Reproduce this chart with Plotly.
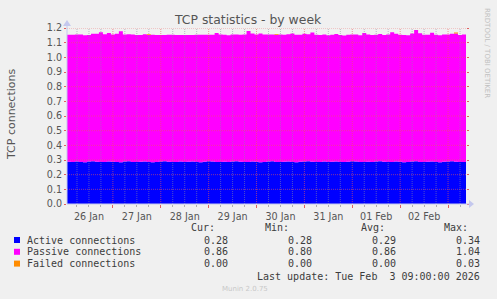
import pandas as pd
import plotly.graph_objects as go

# ---------------- data ----------------
start_time = "2026-01-26 01:00"
end_time = "2026-02-03 09:00"
step = "2h"

active = [
    0.288, 0.286, 0.290, 0.287, 0.285, 0.289, 0.291, 0.288, 0.286, 0.287,
    0.290, 0.288, 0.286, 0.285, 0.289, 0.292, 0.287, 0.286, 0.288, 0.290,
    0.287, 0.285, 0.286, 0.289, 0.291, 0.288, 0.286, 0.287, 0.289, 0.286,
    0.288, 0.290, 0.287, 0.285, 0.288, 0.291, 0.289, 0.286, 0.287, 0.288,
    0.286, 0.289, 0.292, 0.288, 0.286, 0.287, 0.290, 0.288, 0.285, 0.286,
    0.289, 0.291, 0.287, 0.286, 0.288, 0.290, 0.287, 0.285, 0.288, 0.289,
    0.291, 0.288, 0.286, 0.287, 0.289, 0.286, 0.288, 0.290, 0.287, 0.286,
    0.288, 0.291, 0.289, 0.286, 0.287, 0.288, 0.286, 0.289, 0.292, 0.288,
    0.286, 0.287, 0.290, 0.288, 0.285, 0.286, 0.289, 0.291, 0.287, 0.286,
    0.288, 0.290, 0.287, 0.285, 0.288, 0.289, 0.291, 0.288, 0.286, 0.287,
    0.288,
]
passive = [
    0.866, 0.868, 0.865, 0.869, 0.866, 0.864, 0.870, 0.872, 0.885, 0.871,
    0.876, 0.868, 0.874, 0.892, 0.867, 0.865, 0.869, 0.866, 0.864, 0.868,
    0.866, 0.869, 0.867, 0.864, 0.862, 0.866, 0.868, 0.865, 0.863, 0.867,
    0.865, 0.863, 0.867, 0.869, 0.866, 0.863, 0.865, 0.880, 0.868, 0.866,
    0.864, 0.867, 0.863, 0.866, 0.870, 0.893, 0.872, 0.867, 0.878, 0.869,
    0.866, 0.864, 0.867, 0.870, 0.866, 0.868, 0.876, 0.869, 0.866, 0.871,
    0.867, 0.881, 0.868, 0.865, 0.867, 0.864, 0.866, 0.869, 0.865, 0.863,
    0.866, 0.864, 0.867, 0.865, 0.879, 0.868, 0.866, 0.865, 0.867, 0.864,
    0.869, 0.884, 0.870, 0.866, 0.868, 0.865, 0.873, 0.896, 0.877, 0.868,
    0.866, 0.878, 0.867, 0.865, 0.868, 0.866, 0.870, 0.874, 0.867, 0.869,
    0.866,
]
failed = [
    0.0, 0.0, 0.0, 0.0, 0.0, 0.0, 0.0, 0.0, 0.0, 0.0,
    0.0, 0.0, 0.0, 0.0, 0.0, 0.0, 0.0, 0.0, 0.0, 0.0,
    0.004, 0.0, 0.0, 0.0, 0.0, 0.0, 0.0, 0.0, 0.0, 0.0,
    0.0, 0.0, 0.0, 0.0, 0.0, 0.0, 0.0, 0.0, 0.0, 0.0,
    0.0, 0.0, 0.0, 0.0, 0.0, 0.0, 0.0, 0.0, 0.0, 0.0,
    0.0, 0.0, 0.005, 0.0, 0.0, 0.0, 0.0, 0.0, 0.0, 0.0,
    0.0, 0.0, 0.0, 0.0, 0.0, 0.0, 0.0, 0.0, 0.0, 0.0,
    0.0, 0.0, 0.0, 0.0, 0.0, 0.0, 0.0, 0.0, 0.0, 0.0,
    0.0, 0.0, 0.0, 0.0, 0.0, 0.0, 0.0, 0.0, 0.0, 0.0,
    0.0, 0.0, 0.0, 0.0, 0.0, 0.0, 0.0, 0.008, 0.0, 0.0,
    0.0,
]

series_names = ["Active connections", "Passive connections", "Failed connections"]
series_colors = ["#0000ff", "#ff00ff", "#ff8c00"]
stat_headers = ["Cur:", "Min:", "Avg:", "Max:"]
stat_cur = [0.28, 0.86, 0.00]
stat_min = [0.28, 0.80, 0.00]
stat_avg = [0.29, 0.86, 0.00]
stat_max = [0.34, 1.04, 0.03]
y_ticks = [0.0, 0.1, 0.2, 0.3, 0.4, 0.5, 0.6, 0.7, 0.8, 0.9, 1.0, 1.1, 1.2]
title_text = "TCP statistics - by week"
y_title = "TCP connections"
last_update = "Last update: Tue Feb  3 09:00:00 2026"
footer = "Munin 2.0.75"
side_text = "RRDTOOL / TOBI OETIKER"

times = pd.date_range(start_time, end_time, freq=step)

# ---------------- layout geometry (pixels) ----------------
W, H = 497, 299
PL, PR, PT, PB = 67, 466, 28, 204


def px(x):
    return (x - PL) / (PR - PL)


def py(y):
    return (PB - y) / (PB - PT)


fig = go.Figure()
for name, vals, col in zip(series_names, [active, passive, failed], series_colors):
    fig.add_trace(go.Scatter(
        x=times, y=vals, name=name, stackgroup="one", mode="lines",
        line=dict(width=0, shape="hv", color=col), fillcolor=col,
        hoverinfo="skip",
    ))

shapes = []
# horizontal grid (above the areas, like rrdtool)
for v in y_ticks[1:]:
    shapes.append(dict(type="line", xref="paper", yref="y", x0=0, x1=1, y0=v, y1=v,
                       line=dict(color="rgba(235,90,90,0.55)", width=1, dash="1px,1px"),
                       layer="above"))
# vertical grid every 6 hours, day boundaries in red
grid_times = pd.date_range("2026-01-26 06:00", end_time, freq="6h")
for t in grid_times:
    major = (t.hour == 0)
    shapes.append(dict(type="line", xref="x", yref="paper", x0=t, x1=t, y0=0, y1=1,
                       line=dict(color="rgba(235,90,90,0.6)" if major else "rgba(140,140,160,0.55)",
                                 width=1, dash="1px,1px"),
                       layer="above"))
# axis lines with arrows
axcol = "#c4c8ee"
shapes.append(dict(type="line", xref="paper", yref="paper", x0=0, x1=px(470), y0=0, y1=0,
                   line=dict(color=axcol, width=1), layer="above"))
shapes.append(dict(type="line", xref="paper", yref="paper", x0=0, x1=0, y0=0, y1=py(22),
                   line=dict(color=axcol, width=1), layer="above"))
shapes.append(dict(type="path", xref="paper", yref="paper",
                   path=f"M {px(469)} {py(200)} L {px(474)} {py(204)} L {px(469)} {py(208)} Z",
                   fillcolor=axcol, line=dict(width=0), layer="above"))
shapes.append(dict(type="path", xref="paper", yref="paper",
                   path=f"M {px(63)} {py(26)} L {px(67)} {py(20)} L {px(71)} {py(26)} Z",
                   fillcolor=axcol, line=dict(width=0), layer="above"))
# legend squares
for i, col in enumerate(series_colors):
    yc = 240 + i * 11.8
    shapes.append(dict(type="rect", xref="paper", yref="paper",
                       x0=px(14), x1=px(20), y0=py(yc + 3), y1=py(yc - 3),
                       fillcolor=col, line=dict(width=0)))

annotations = []
mono = "DejaVu Sans Mono"
txtcol = "#3c3c3c"
# title
annotations.append(dict(text=title_text, xref="paper", yref="paper", x=px(248), y=py(19),
                        xanchor="center", yanchor="middle", showarrow=False,
                        font=dict(family="DejaVu Sans", size=12.4, color="#555555")))
# y axis title
annotations.append(dict(text=y_title, xref="paper", yref="paper", x=px(12), y=py(115),
                        xanchor="center", yanchor="middle", showarrow=False, textangle=-90,
                        font=dict(family="DejaVu Sans", size=11, color="#555555")))
# side rrdtool text
annotations.append(dict(text=side_text, xref="paper", yref="paper", x=px(487), y=py(53),
                        xanchor="center", yanchor="middle", showarrow=False, textangle=90,
                        font=dict(family="DejaVu Sans", size=7, color="#c0c0c0")))
# stats headers
col_right = [230, 314, 398, 482]
head_right = [217, 291, 387, 470]
for h, xr in zip(stat_headers, head_right):
    annotations.append(dict(text=h, xref="paper", yref="paper", x=px(xr), y=py(228),
                            xanchor="right", yanchor="middle", showarrow=False,
                            font=dict(family=mono, size=10, color=txtcol)))
for i, name in enumerate(series_names):
    yc = 240 + i * 11.8
    annotations.append(dict(text=name, xref="paper", yref="paper", x=px(25), y=py(yc),
                            xanchor="left", yanchor="middle", showarrow=False,
                            font=dict(family=mono, size=10, color=txtcol)))
    for vals, xr in zip([stat_cur, stat_min, stat_avg, stat_max], col_right):
        annotations.append(dict(text=f"{vals[i]:.2f}", xref="paper", yref="paper", x=px(xr), y=py(yc),
                                xanchor="right", yanchor="middle", showarrow=False,
                                font=dict(family=mono, size=10, color=txtcol)))
annotations.append(dict(text=last_update.replace(" ", "&nbsp;"), xref="paper", yref="paper", x=px(482), y=py(276),
                        xanchor="right", yanchor="middle", showarrow=False,
                        font=dict(family=mono, size=10, color=txtcol)))
annotations.append(dict(text=footer, xref="paper", yref="paper", x=px(245), y=py(289),
                        xanchor="center", yanchor="middle", showarrow=False,
                        font=dict(family="DejaVu Sans", size=7, color="#c8c8c8")))

fig.update_layout(
    width=W, height=H,
    margin=dict(l=PL, r=W - PR, t=PT, b=H - PB, pad=0),
    paper_bgcolor="#f0f0f0", plot_bgcolor="#f0f0f0",
    showlegend=False,
    shapes=shapes, annotations=annotations,
    xaxis=dict(
        type="date", range=[start_time, end_time],
        showgrid=False, zeroline=False, showline=False,
        dtick=86400000, tick0="2026-01-26", tickformat="%d %b", ticklabelmode="period",
        ticks="outside", ticklen=3, tickcolor="#e06060", tickwidth=1,
        minor=dict(dtick=6 * 3600000, ticks="outside", ticklen=2, tickcolor="#b0b0b0", showgrid=False),
        tickfont=dict(family="DejaVu Sans", size=9.6, color="#555555"),
    ),
    yaxis=dict(
        range=[0, 1.2], tickvals=y_ticks, tickformat=".1f",
        showgrid=False, zeroline=False, showline=False,
        ticks="outside", ticklen=2, tickcolor="#e06060", mirror="ticks",
        tickfont=dict(family="DejaVu Sans", size=9.6, color="#555555"),
    ),
)

fig.write_html("out.html")
